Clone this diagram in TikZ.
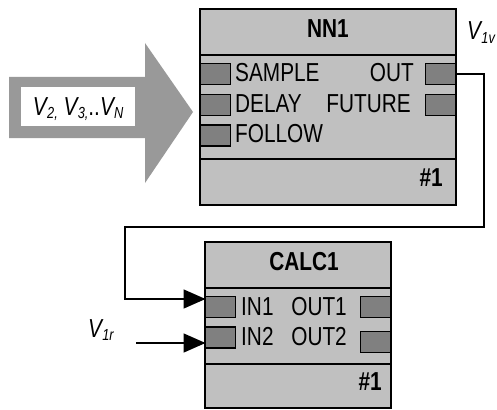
\documentclass[tikz,border=0pt]{standalone}
\usepackage{fontspec}
\setmainfont{Liberation Sans}[FakeStretch=0.8]
\usetikzlibrary{arrows.meta}
\definecolor{boxgray}{HTML}{C0C0C0}
\definecolor{portgray}{HTML}{808080}
\definecolor{arrowgray}{HTML}{999999}
\newcommand{\Vsb}[1]{\textit{V\kern0.3pt\raisebox{-0.25ex}{\fontsize{16}{16}\selectfont #1}}}
\begin{document}
\begin{tikzpicture}[x=1pt,y=-1pt, font=\fontsize{26}{30}\selectfont,
  box/.style={draw, line width=1.6pt, fill=boxgray, anchor=north west, inner sep=0, outer sep=0},
  port/.style={draw, line width=1.6pt, fill=portgray, minimum width=30pt, minimum height=21pt, inner sep=0, outer sep=0},
  lbl/.style={inner sep=0, anchor=base west},
  lblr/.style={inner sep=0, anchor=base east},
  ttl/.style={inner sep=0, anchor=base, font=\fontsize{26}{30}\selectfont\bfseries},
  sep/.style={line width=1.6pt},
  wire/.style={line width=1.6pt},
  tip/.style={-{Triangle[length=22pt,width=19pt]}}]
\useasboundingbox (0,0) rectangle (497,409);
% big arrow
\path[fill=arrowgray] (9,77) -- (145,77) -- (145,43) -- (193,112) -- (145,183) -- (145,138) -- (9,138) -- cycle;
\node[fill=white, inner sep=0, minimum width=114pt, minimum height=39pt, anchor=north west] (vbox) at (21,87) {};
\node[inner sep=0, anchor=base] (vtext) at (vbox.center |- 0,115) {\Vsb{2,} \Vsb{3,}..\Vsb{N}};
% NN1
\node[box, minimum width=256pt, minimum height=196pt] (nn1) at (200,9) {};
\draw[sep] (200,55) -- (456,55);
\draw[sep] (200,159) -- (456,159);
\node[ttl] (nn1t) at (328,38) {NN1};
\node[port] (nsample) at (215.5,74) {};
\node[port] (ndelay) at (215.5,105) {};
\node[port] (nfollow) at (215.5,135.5) {};
\node[port] (nout) at (440.5,74) {};
\node[port] (nfuture) at (440.5,105) {};
\node[lbl] (tsample) at (235,82) {SAMPLE};
\node[lbl] (tdelay) at (235,112) {DELAY};
\node[lbl] (tfollow) at (235,142) {FOLLOW};
\node[lblr] (tout) at (414,82) {OUT};
\node[lblr] (tfuture) at (411,112) {FUTURE};
\node[lblr, font=\fontsize{26}{30}\selectfont\bfseries] (nn1n) at (443,186) {\#1};
\node[inner sep=0, anchor=base west] (v1v) at (467,40) {\Vsb{1v}};
% CALC1
\node[box, minimum width=186pt, minimum height=166pt] (calc) at (205,242) {};
\draw[sep] (205,288) -- (391,288);
\draw[sep] (205,364) -- (391,364);
\node[ttl] (calct) at (304,270) {CALC1};
\node[port] (cin1) at (220.5,307) {};
\node[port] (cin2) at (220.5,337.5) {};
\node[port] (cout1) at (375.5,307) {};
\node[port] (cout2) at (375.5,342) {};
\node[lbl] (tin1) at (241,315) {IN1};
\node[lbl] (tin2) at (241,345) {IN2};
\node[lblr] (tout1) at (347,315) {OUT1};
\node[lblr] (tout2) at (347,345) {OUT2};
\node[lblr, font=\fontsize{26}{30}\selectfont\bfseries] (calcn) at (382,390) {\#1};
\node[inner sep=0, anchor=base west] (v1r) at (88,337) {\Vsb{1r}};
% wires
\coordinate (w1) at (484,74);
\coordinate (w2) at (484,227);
\coordinate (w3) at (125,227);
\coordinate (w4) at (125,299);
\draw[wire, tip] (nout.east) -- (w1) -- (w2) -- (w3) -- (w4) -- (w4 -| cin1.west);
\coordinate (r0) at (136,343);
\draw[wire, tip] (r0) -- (r0 -| cin2.west);
\end{tikzpicture}
\end{document}
